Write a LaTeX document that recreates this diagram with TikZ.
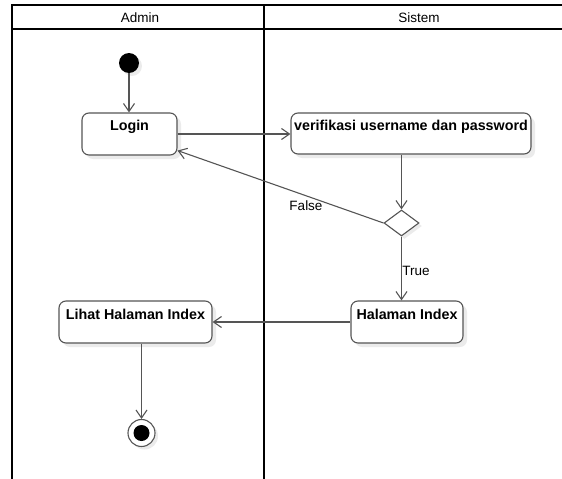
\documentclass[tikz,border=0pt]{standalone}
\usepackage{fontspec}
\setmainfont{Liberation Sans}
\usetikzlibrary{arrows.meta,shapes.geometric,shadows,calc}
\definecolor{lnc}{HTML}{555555}
\tikzset{
  lane/.style={line width=1.6pt, black},
  actbox/.style={draw=lnc, line width=1.1pt, rounded corners=7pt, fill=white, rectangle,
    drop shadow={shadow xshift=4pt, shadow yshift=-4pt, fill=black, opacity=0.08}},
  acttext/.style={font=\fontsize{14.3}{16}\selectfont\bfseries, inner sep=0pt},
  flow/.style={draw=lnc, line width=1.1pt, -{Straight Barb[length=8pt,width=11pt]}},
  hdr/.style={font=\fontsize{13.5}{15}\selectfont, inner sep=0pt},
  lbl/.style={font=\fontsize{13.5}{15}\selectfont, inner sep=0pt},
}
\begin{document}
\begin{tikzpicture}[x=1pt,y=-1pt]
\useasboundingbox (0,0) rectangle (562,479);
% swimlane frame
\draw[lane] (12,479) -- (12,5) -- (562,5);
\draw[lane] (12,29) -- (562,29);
\draw[lane] (264,5) -- (264,479);
\node[hdr] (hadmin) at (140,18) {Admin};
\node[hdr] (hsistem) at (419,18) {Sistem};
% nodes
\node[circle, fill=black, minimum size=20pt, inner sep=0pt,
  drop shadow={shadow xshift=3pt, shadow yshift=-3pt, fill=black, opacity=0.08}] (start) at (129,63) {};
\node[actbox, minimum width=95pt, minimum height=42pt] (login) at (129.5,134) {};
\node[acttext] (logintxt) at ([yshift=-14pt]login.north) {Login};
\node[actbox, minimum width=240pt, minimum height=41pt] (verif) at (411,133.5) {};
\node[acttext] (veriftxt) at ([yshift=-14pt]verif.north) {verifikasi username dan password};
\node[diamond, draw=lnc, line width=1.1pt, fill=white, minimum width=35pt, minimum height=26pt, inner sep=0pt,
  drop shadow={shadow xshift=3pt, shadow yshift=-3pt, fill=black, opacity=0.08}] (dec) at (401.5,223) {};
\node[actbox, minimum width=112pt, minimum height=42pt] (halaman) at (407,322) {};
\node[acttext] (halamantxt) at ([yshift=-14pt]halaman.north) {Halaman Index};
\node[actbox, minimum width=153pt, minimum height=42pt] (lihat) at (135.5,322) {};
\node[acttext] (lihattxt) at ([yshift=-14pt]lihat.north) {Lihat Halaman Index};
\node[circle, draw=lnc, line width=1.1pt, fill=white, minimum size=27pt, inner sep=0pt,
  drop shadow={shadow xshift=3pt, shadow yshift=-3pt, fill=black, opacity=0.08}] (final) at (141.5,433) {};
\node[circle, fill=black, minimum size=16pt, inner sep=0pt] (finaldot) at (final.center) {};
% connectors
\draw[flow] (start) -- (login.north -| start);
\draw[flow] (login.east) -- (login.east -| verif.west);
\draw[flow] (verif.south -| dec) -- (dec.north);
\draw[flow] (dec.west) -- ([yshift=5pt]login.south east);
\node[lbl] (lfalse) at (306,206) {False};
\draw[flow] (dec.south) -- (halaman.north -| dec);
\node[lbl] (ltrue) at (416,270.5) {True};
\draw[flow] (halaman.west) -- (lihat.east);
\draw[flow] (lihat.south -| final) -- (final.north);
\end{tikzpicture}
\end{document}
